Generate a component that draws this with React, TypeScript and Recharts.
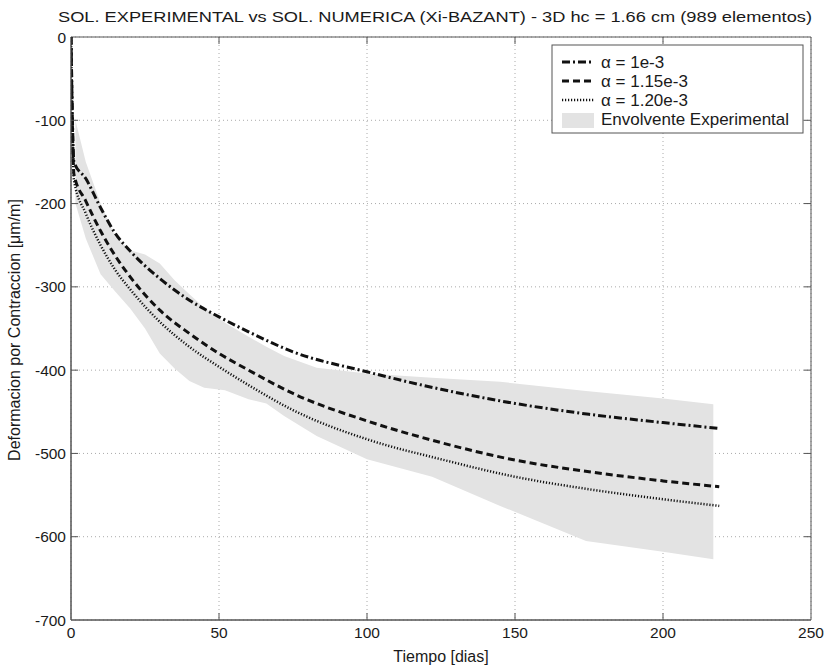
import {
  Area,
  CartesianGrid,
  ComposedChart,
  Line,
  ReferenceArea,
  ReferenceLine,
  XAxis,
  YAxis,
} from 'recharts'

// tiempo [dias] para las curvas numericas
const days = [0, 1, 5, 10, 15, 20, 30, 40, 50, 60, 75, 100, 125, 150, 175, 200, 219]
const alpha100 = [0, -150, -170, -205, -236, -257, -290, -316, -336, -354, -378, -402, -423, -440, -453, -463, -470]
const alpha115 = [0, -165, -197, -233, -263, -288, -328, -356, -380, -400, -428, -461, -487, -508, -522, -533, -540]
const alpha120 = [0, -172, -212, -250, -280, -303, -342, -372, -396, -418, -448, -483, -507, -528, -543, -555, -563]

// envolvente experimental
const envDays = [1.5, 5, 10, 15, 20, 25, 30, 35, 40, 45, 52, 60, 66, 72, 83, 100, 122, 145, 174, 200, 217]
const envUpper = [-100, -150, -200, -240, -256, -261, -272, -292, -309, -325, -343, -360, -372, -383, -397, -404, -409, -414, -425, -434, -441]
const envLower = [-200, -242, -285, -306, -326, -350, -380, -398, -413, -421, -424, -435, -440, -455, -479, -507, -528, -563, -605, -618, -627]

const xTicks = [0, 50, 100, 150, 200, 250]
const yTicks = [-700, -600, -500, -400, -300, -200, -100, 0]

const FONT = '"Liberation Sans", Arial, sans-serif'
const TEXT = '#1a1a1a'
const AXIS = '#555'

const curve = (vals: number[]) => days.map((t, i) => ({ t, v: vals[i] }))
const envData = envDays.map((t, i) => ({ t, range: [envLower[i], envUpper[i]] }))

const series = [
  { name: 'α = 1e-3', data: curve(alpha100), dash: '8 3 2 3', width: 3 },
  { name: 'α = 1.15e-3', data: curve(alpha115), dash: '7 4', width: 3 },
  { name: 'α = 1.20e-3', data: curve(alpha120), dash: '1.2 1.8', width: 2.5 },
]

// inward tick length in data units (~7px)
const TX = 2.4
const TY = 8.4

function Legend() {
  const x0 = 552
  const y0 = 45
  const rows = [62, 81, 100, 119]
  return (
    <g fontFamily={FONT} fontSize={17} fill={TEXT}>
      <rect x={x0} y={y0} width={251} height={88} fill="#fff" stroke={AXIS} strokeWidth={1} />
      {series.map((s, i) => (
        <g key={s.name}>
          <line
            x1={562}
            x2={594}
            y1={rows[i]}
            y2={rows[i]}
            stroke="#111"
            strokeWidth={s.width}
            strokeDasharray={s.dash}
          />
          <text x={601} y={rows[i] + 6}>
            {s.name}
          </text>
        </g>
      ))}
      <rect x={562} y={113} width={32} height={15} fill="#e3e3e3" />
      <text x={601} y={rows[3] + 6}>
        Envolvente Experimental
      </text>
    </g>
  )
}

export default function App() {
  return (
    <div style={{ position: 'absolute', left: 0, top: 0, width: 828, height: 668, background: '#fff' }}>
      <ComposedChart
        width={828}
        height={668}
        margin={{ top: 37, right: 17, bottom: 0, left: 0 }}
      >
        <CartesianGrid stroke="#aaa" strokeDasharray="1 3" />
        <XAxis
          dataKey="t"
          type="number"
          domain={[0, 250]}
          ticks={xTicks}
          allowDataOverflow
          height={48}
          tickLine={false}
          tickSize={0}
          tickMargin={7}
          axisLine={{ stroke: AXIS }}
          tick={{ fontSize: 15.5, fill: TEXT, fontFamily: FONT }}
        />
        <YAxis
          type="number"
          domain={[-700, 0]}
          ticks={yTicks}
          allowDataOverflow
          width={71}
          tickLine={false}
          tickSize={0}
          tickMargin={5}
          axisLine={{ stroke: AXIS }}
          tick={{ fontSize: 15.5, fill: TEXT, fontFamily: FONT }}
        />
        <Area
          data={envData}
          dataKey="range"
          type="linear"
          stroke="none"
          fill="#e3e3e3"
          fillOpacity={1}
          isAnimationActive={false}
          dot={false}
          activeDot={false}
        />
        {series.map((s) => (
          <Line
            key={s.name}
            data={s.data}
            dataKey="v"
            type="monotone"
            stroke="#111"
            strokeWidth={s.width}
            strokeDasharray={s.dash}
            dot={false}
            activeDot={false}
            isAnimationActive={false}
          />
        ))}
        <ReferenceArea x1={0} x2={250} y1={-700} y2={0} fill="none" stroke={AXIS} strokeWidth={1} ifOverflow="visible" />
        {xTicks.slice(1, -1).map((t) => (
          <ReferenceLine key={`xb${t}`} segment={[{ x: t, y: -700 }, { x: t, y: -700 + TY }]} stroke={AXIS} />
        ))}
        {xTicks.slice(1, -1).map((t) => (
          <ReferenceLine key={`xt${t}`} segment={[{ x: t, y: 0 }, { x: t, y: -TY }]} stroke={AXIS} />
        ))}
        {yTicks.slice(1, -1).map((v) => (
          <ReferenceLine key={`yl${v}`} segment={[{ x: 0, y: v }, { x: TX, y: v }]} stroke={AXIS} />
        ))}
        {yTicks.slice(1, -1).map((v) => (
          <ReferenceLine key={`yr${v}`} segment={[{ x: 250, y: v }, { x: 250 - TX, y: v }]} stroke={AXIS} />
        ))}
      </ComposedChart>
      <svg
        width={828}
        height={668}
        style={{ position: 'absolute', left: 0, top: 0, pointerEvents: 'none' }}
      >
        <text
          x={435}
          y={22}
          textAnchor="middle"
          fontFamily={FONT}
          fontSize={15.5}
          fill={TEXT}
          textLength={754}
          lengthAdjust="spacingAndGlyphs"
        >
          SOL. EXPERIMENTAL vs SOL. NUMERICA (Xi-BAZANT) - 3D hc = 1.66 cm (989 elementos)
        </text>
        <text x={441} y={662} textAnchor="middle" fontFamily={FONT} fontSize={16} fill={TEXT}>
          Tiempo [dias]
        </text>
        <text
          x={0}
          y={0}
          transform="translate(20 330) rotate(-90)"
          textAnchor="middle"
          fontFamily={FONT}
          fontSize={16}
          fill={TEXT}
        >
          Deformacion por Contraccion [μm/m]
        </text>
        <Legend />
      </svg>
    </div>
  )
}
